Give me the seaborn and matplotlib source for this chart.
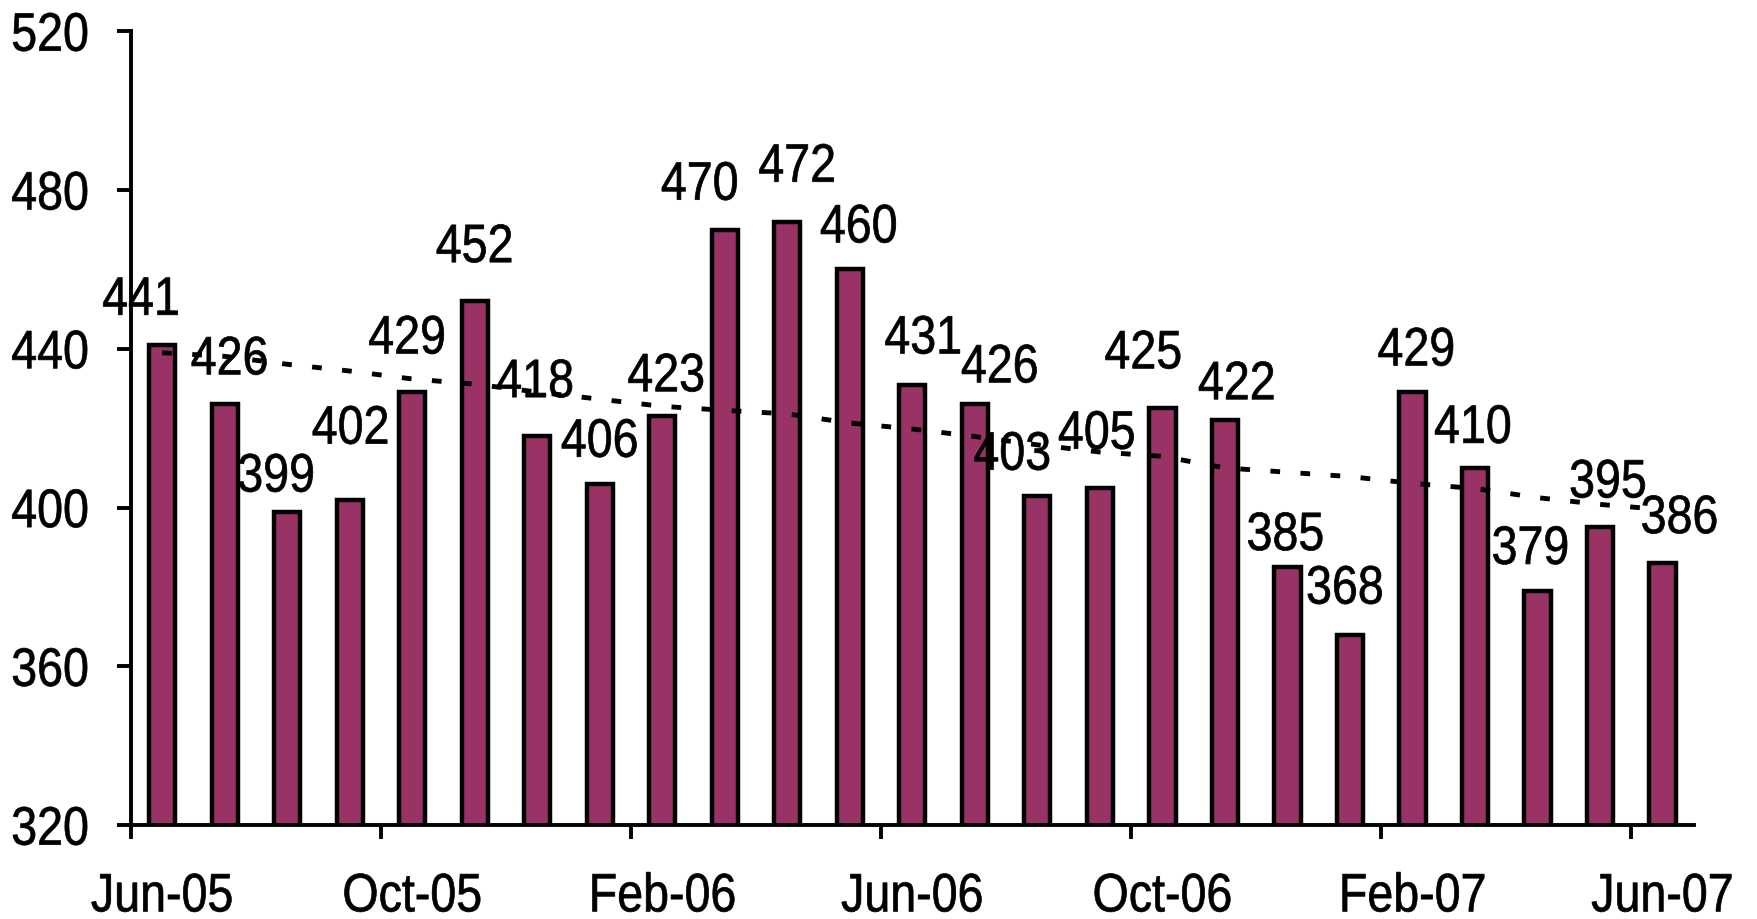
import matplotlib
matplotlib.use("Agg")
import matplotlib.pyplot as plt
from matplotlib import font_manager
from matplotlib.patheffects import AbstractPathEffect
from matplotlib.transforms import Affine2D
import numpy as np
import pandas as pd
import seaborn as sns

months = ["Jun-05", "Jul-05", "Aug-05", "Sep-05", "Oct-05", "Nov-05", "Dec-05",
          "Jan-06", "Feb-06", "Mar-06", "Apr-06", "May-06", "Jun-06", "Jul-06",
          "Aug-06", "Sep-06", "Oct-06", "Nov-06", "Dec-06", "Jan-07", "Feb-07",
          "Mar-07", "Apr-07", "May-07", "Jun-07"]
values = [441, 426, 399, 402, 429, 452, 418, 406, 423, 470, 472, 460, 431,
          426, 403, 405, 425, 422, 385, 368, 429, 410, 379, 395, 386]
# dotted trend line
trend = [439.0, 438.1, 436.1, 434.4, 432.4, 431.1, 429.1, 427.3, 425.5, 424.5,
         423.6, 421.3, 419.8, 417.9, 415.8, 414.0, 412.9, 410.0, 408.9, 407.8,
         406.1, 404.8, 402.5, 400.8, 399.5]
tick_months = ["Jun-05", "Oct-05", "Feb-06", "Jun-06", "Oct-06", "Feb-07", "Jun-07"]
y_ticks = [320, 360, 400, 440, 480, 520]

# label nudges (pixels) so the numbers sit like in the source chart
label_dx = [-21, 5, -11, 1, -5, 0, -2, 0, 4, -25, 10, 9, 11, 25, -25, -3, -19,
            12, -2, -5, 4, -2, -7, 8, 17]
label_dy = [44, 44, 34, 70, 53, 53, 53, 41, 39, 44, 54, 41, 45, 36, 40, 53, 54,
            35, 31, 45, 41, 39, 41, 44, 44]

BAR_COLOR = "#993366"
FS = 39
SQUEEZE = 0.86  # the source uses a narrow Arial


class Condense(AbstractPathEffect):
    """Squeeze text glyphs horizontally (fake 'narrow' font)."""

    def __init__(self, sx=0.86, anchor="center", stroke=0.5):
        super().__init__()
        self.sx = sx
        self.anchor = anchor
        self.stroke = stroke

    def draw_path(self, renderer, gc, tpath, affine, rgbFace=None):
        ext = tpath.get_extents()
        cx = ext.x1 if self.anchor == "right" else (ext.x0 + ext.x1) / 2
        t = Affine2D().translate(-cx, 0).scale(self.sx, 1).translate(cx, 0) + affine
        gc0 = renderer.new_gc()
        gc0.copy_properties(gc)
        if rgbFace is not None and self.stroke:
            gc0.set_foreground(rgbFace)
            gc0.set_linewidth(self.stroke)
        renderer.draw_path(gc0, tpath, t, rgbFace)
        gc0.restore()


sns.set_style("ticks")
installed = {f.name for f in font_manager.fontManager.ttflist}
fam = [f for f in ["Liberation Sans", "Arial", "DejaVu Sans"] if f in installed]
plt.rcParams["font.family"] = fam

df = pd.DataFrame({"month": months, "value": values})

fig = plt.figure(figsize=(17.57, 9.2), dpi=100)
ax = fig.add_axes([0.0745, 0.102, 0.8895, 0.863])

sns.barplot(data=df, x="month", y="value", order=months, color=BAR_COLOR,
            saturation=1, width=0.42, edgecolor="black", linewidth=3.2, ax=ax)
sns.lineplot(x=np.arange(len(trend)), y=trend, color="black", lw=3.5,
             linestyle=(0, (2, 4.2)), ax=ax, zorder=3)

for i, v in enumerate(values):
    ax.annotate(str(v), xy=(i, v), xytext=(label_dx[i] * 0.72, label_dy[i] * 0.72),
                textcoords="offset points", ha="center", va="center",
                fontsize=FS, color="black", zorder=4,
                path_effects=[Condense(SQUEEZE, "center")])

ax.set_xlim(-0.5, len(months) - 0.5)
ax.set_ylim(320, 520)
ax.set_yticks(y_ticks)
ax.set_yticklabels([str(t) for t in y_ticks])

pos = [months.index(m) for m in tick_months]
ax.set_xticks([p - 0.5 for p in pos])
ax.set_xticklabels([""] * len(pos))
ax.set_xticks(pos, minor=True)
ax.set_xticklabels(tick_months, minor=True)

ax.tick_params(axis="y", length=10, width=2.8, pad=20, labelsize=FS, colors="black")
ax.tick_params(axis="x", which="major", length=10, width=2.8, colors="black")
ax.tick_params(axis="x", which="minor", length=0, pad=34, labelsize=FS, colors="black")

for lbl in ax.get_yticklabels():
    lbl.set_path_effects([Condense(SQUEEZE, "right")])
for lbl in ax.get_xticklabels(minor=True):
    lbl.set_path_effects([Condense(SQUEEZE, "center")])

sns.despine(ax=ax)
for s in ["left", "bottom"]:
    ax.spines[s].set_linewidth(2.8)
    ax.spines[s].set_color("black")
ax.set_xlabel("")
ax.set_ylabel("")

fig.savefig("out.png", dpi=100, facecolor="white")
